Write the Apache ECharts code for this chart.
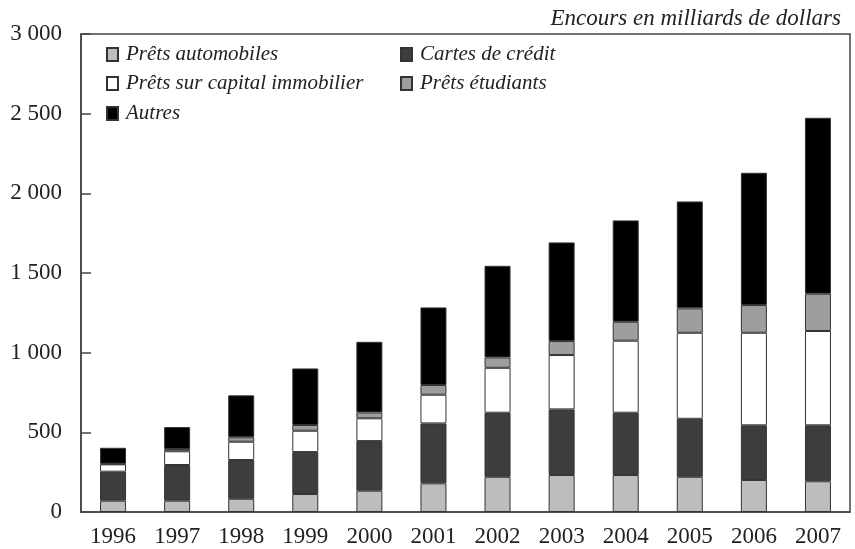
<!DOCTYPE html>
<html>
<head>
<meta charset="utf-8">
<script src="https://cdn.jsdelivr.net/npm/echarts@6/dist/echarts.min.js"></script>
<style>
  html, body { margin: 0; padding: 0; background: #fff; }
  #chart { width: 855px; height: 549px; }
</style>
</head>
<body>
<div id="chart"></div>
<script>
    // Encours en milliards de dollars
    var years = ['1996', '1997', '1998', '1999', '2000', '2001', '2002', '2003', '2004', '2005', '2006', '2007'];
    var pretsAuto = [71, 71, 83, 113, 134, 180, 221, 232, 232, 221, 201, 193];
    var cartesCredit = [182, 224, 243, 263, 311, 376, 402, 412, 391, 364, 343, 351];
    var pretsImmo = [46, 86, 115, 134, 143, 180, 282, 341, 452, 540, 581, 592];
    var pretsEtud = [4, 14, 28, 36, 37, 61, 65, 88, 119, 153, 174, 234];
    var autres = [100, 138, 263, 355, 443, 487, 575, 619, 636, 671, 830, 1104];
    var yTicks = [0, 500, 1000, 1500, 2000, 2500, 3000];

    var serif = '"Liberation Serif", "DejaVu Serif", serif';
    var names = ['Prêts automobiles', 'Cartes de crédit', 'Prêts sur capital immobilier', 'Prêts étudiants', 'Autres'];
    var colors = ['#bdbdbd', '#3d3d3d', '#ffffff', '#9e9e9e', '#000000'];
    var datas = [pretsAuto, cartesCredit, pretsImmo, pretsEtud, autres];
    // legend positions (left, top)
    var legendPos = [[106, 44], [400, 44], [106, 73], [400, 73], [106, 103]];

    function fmtThousand(v){
        var s = String(v);
        if (s.length > 3){
            return s.slice(0, s.length - 3) + ' ' + s.slice(s.length - 3);
        }
        return s;
    }

    var myChart = echarts.init(document.getElementById('chart'));
    var option = {
        animation: false,
        backgroundColor: '#fff',
        title: {
            text: 'Encours en milliards de dollars',
            right: 14,
            top: 7,
            padding: 0,
            textStyle: {
                fontFamily: serif,
                fontStyle: 'italic',
                fontWeight: 'normal',
                fontSize: 23,
                color: '#222'
            }
        },
        legend: names.map(function (n, i) {
            return {
                data: [n],
                icon: 'rect',
                left: legendPos[i][0],
                top: legendPos[i][1],
                itemWidth: 11,
                itemHeight: 13,
                padding: 0,
                textStyle: {
                    fontFamily: serif,
                    fontStyle: 'italic',
                    fontSize: 21,
                    color: '#222',
                    padding: [0, 0, 0, 3]
                }
            };
        }),
        grid: {
            left: 81,
            right: 5,
            top: 34,
            bottom: 37,
            show: true,
            borderColor: '#444',
            borderWidth: 1.5,
            containLabel: false
        },
        xAxis: {
            type: 'category',
            data: years,
            axisTick: { show: false },
            axisLine: { lineStyle: { color: '#444', width: 1.5 } },
            axisLabel: {
                margin: 13,
                fontFamily: serif,
                fontSize: 23,
                color: '#222'
            }
        },
        yAxis: {
            type: 'value',
            min: 0,
            max: 3000,
            interval: 500,
            splitLine: { show: false },
            axisLine: { show: true, lineStyle: { color: '#444', width: 1.5 } },
            axisTick: {
                show: true,
                inside: true,
                length: 10,
                lineStyle: { color: '#444', width: 1.5 }
            },
            axisLabel: {
                margin: 19,
                fontFamily: serif,
                fontSize: 23,
                color: '#222',
                formatter: function (v) {
                    return yTicks.indexOf(v) >= 0 ? fmtThousand(v) : '';
                }
            }
        },
        series: names.map(function (n, i) {
            return {
                name: n,
                type: 'bar',
                stack: 'total',
                data: datas[i],
                barWidth: 26,
                itemStyle: {
                    color: colors[i],
                    borderColor: '#333',
                    borderWidth: 1
                }
            };
        })
    };
    myChart.setOption(option, true);
</script>
</body>
</html>
